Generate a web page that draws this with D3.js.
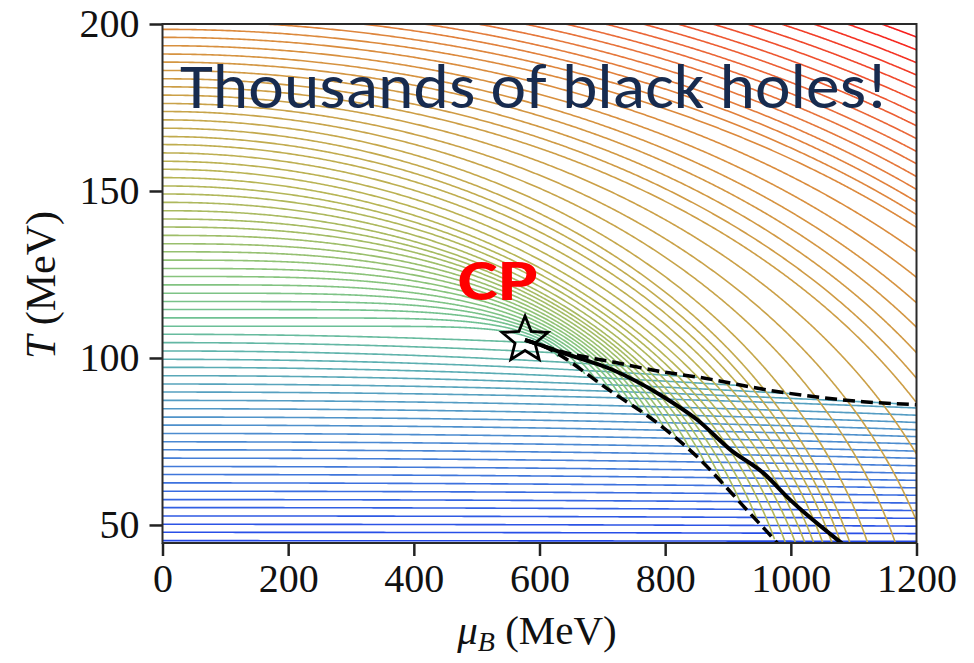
<!DOCTYPE html>
<html>
<head>
<meta charset="utf-8">
<script src="https://cdn.jsdelivr.net/npm/d3@7"></script>
<style>
body{margin:0;background:#fff}
</style>
</head>
<body>
<div id="viz"></div>
<script>
//Layout
let width = 974
let height = 663
let plotLeft = 162.5, plotRight = 916.5, plotTop = 24, plotBottom = 543

//Axes
let xDomain = [0, 1200]
let yDomain = [44.6, 200]
let xTicks = [0, 200, 400, 600, 800, 1000, 1200]
let yTicks = [50, 100, 150, 200]

//Temperature of every black hole curve at muB = 0 (MeV)
let coldT0 = [45.3, 47.8, 50.2, 52.7, 55.2, 57.6, 60.1, 62.6, 65.1, 67.5, 70.0, 72.5, 74.9,
              77.4, 79.9, 82.3, 84.8, 87.3, 89.8, 92.2, 94.7, 97.2, 99.6, 102.1, 104.6, 107.1]
let hotT0 = [109.5, 112.0, 114.5, 116.9, 119.4, 121.9, 124.4, 126.8, 129.3, 131.8, 134.2, 136.7,
             139.2, 141.6, 144.1, 146.6, 149.1, 151.5, 154.0, 156.5, 158.9, 161.4, 163.9, 166.3,
             168.8, 171.3, 173.8, 176.2, 178.7, 181.2, 183.6, 186.1, 188.6, 191.0, 193.5, 196.0,
             198.4, 200.9, 203.4, 205.8, 208.3, 210.8, 213.2, 215.7, 218.2, 220.6, 223.1, 225.6,
             228.1, 230.5, 233.0, 235.5]

//Cold branch: drop in T at muB = 600 MeV
let coldDropT0 = [45, 60, 75, 90, 97, 102, 107.1]
let coldDrop   = [0.05, 0.3, 0.7, 1.2, 2.3, 3.0, 2.6]

//Hot branch guide points: T where a curve passes the critical muB, and where it leaves the plot
let hotGuideT0 = [109.5, 120, 132, 145, 155, 170, 181, 198.4, 235.5]
let hotCpT     = [106.6, 110.5, 116, 122.5, 130, 146.7, 164, 186.4, 227]
let hotEndMu   = [630, 720, 800, 930, 1013, 1100, 1200, 1200, 1200]
let hotEndT    = [100.3, 89.2, 78.9, 54.5, 45, 45.2, 86, 139.1, 196.1]

//Critical point and phase lines (muB, T)
let criticalPoint = [577, 105.4]
let upperMu = [577, 601, 637, 717, 797, 851, 983, 1115, 1201]
let upperT  = [105.4, 103.9, 101.8, 98.8, 95.8, 94.3, 89.8, 86.9, 86.0]
let lowerMu = [577, 601, 717, 787, 851, 930, 978, 990]
let lowerT  = [105.4, 103.9, 89.6, 80.6, 70.4, 54.5, 44.7, 42.2]
let transMu = [577, 601, 637, 717, 797, 851, 904, 956, 999, 1078, 1090]
let transT  = [105.4, 103.9, 101.5, 96.4, 88.4, 81.5, 72.5, 65.6, 57.5, 45.0, 43.2]

//Colour of a curve by its starting temperature
let colorT0 = [45, 60, 75, 90, 100, 110, 125, 140, 155, 170, 185, 198, 212, 225, 236]
let colorHex = ["#2448e8", "#3a6ce0", "#4a88d2", "#56a0c0", "#5cb0b0", "#6cc096", "#88c47c", "#a4bc64",
                "#b8b454", "#c4a84c", "#d09a44", "#dc8a3c", "#e8703a", "#f04a2c", "#f81c1c"]

let x = d3.scaleLinear().domain(xDomain).range([plotLeft, plotRight])
let y = d3.scaleLinear().domain(yDomain).range([plotBottom, plotTop])
let color = d3.scaleLinear().domain(colorT0).range(colorHex).interpolate(d3.interpolateRgb).clamp(true)

let coldDropScale = d3.scaleLinear().domain(coldDropT0).range(coldDrop).clamp(true)
let hotCpScale = d3.scaleLinear().domain(hotGuideT0).range(hotCpT)
let hotEndMuScale = d3.scaleLinear().domain(hotGuideT0).range(hotEndMu)
let hotEndTScale = d3.scaleLinear().domain(hotGuideT0).range(hotEndT)
let upperLine = d3.scaleLinear().domain(upperMu).range(upperT)
let lowerLine = d3.scaleLinear().domain(lowerMu).range(lowerT)

function coldCurve(T0){
    let pts = []
    let c = coldDropScale(T0)
    for(let mu = 0; mu <= 1210; mu += 4){
        let T = T0 - c*(mu/600)*(mu/600)
        if(mu > criticalPoint[0] && T > upperLine(Math.min(mu, 1201))){ break }
        pts.push([mu, T])
    }
    return pts
}

//Superellipse (T/T0)^n + (mu/M)^n = 1 through the two guide points
function hotShape(T0){
    let muC = criticalPoint[0], Tc = hotCpScale(T0)
    let muE = hotEndMuScale(T0), Te = hotEndTScale(T0)
    let f = n => Math.pow(muC/muE, n) - (1 - Math.pow(Tc/T0, n)) / (1 - Math.pow(Te/T0, n))
    let lo = 1.2, hi = 30
    for(let k = 0; k < 60; k++){
        let mid = (lo + hi)/2
        if(f(mid) > 0){ lo = mid } else { hi = mid }
    }
    let n = (lo + hi)/2
    let M = muC / Math.pow(1 - Math.pow(Tc/T0, n), 1/n)
    return [n, M]
}

function hotCurve(T0){
    let pts = []
    let [n, M] = hotShape(T0)
    let muEnd = Math.min(M, 1215)
    for(let i = 0; i <= 600; i++){
        let mu = muEnd * (1 - Math.pow(1 - i/600, 2))
        let T = T0 * Math.pow(Math.max(0, 1 - Math.pow(mu/M, n)), 1/n)
        if(mu > criticalPoint[0] && mu < lowerMu[lowerMu.length-1] && T < lowerLine(mu)){ break }
        pts.push([mu, T])
        if(T < 40) break
    }
    return pts
}

let svg = d3.select('#viz').append('svg').attr("width", width).attr("height", height)

svg.append("clipPath").attr("id", "plotClip").append("rect")
    .attr("x", plotLeft).attr("y", plotTop).attr("width", plotRight-plotLeft).attr("height", plotBottom-plotTop)

let line = d3.line().x(d => x(d[0])).y(d => y(d[1]))
let smooth = d3.line().x(d => x(d[0])).y(d => y(d[1])).curve(d3.curveMonotoneX)
let plot = svg.append("g").attr("clip-path", "url(#plotClip)")

//All curves, drawn in order of starting temperature
let curves = coldT0.map(t => ({T0: t, pts: coldCurve(t)}))
    .concat(hotT0.map(t => ({T0: t, pts: hotCurve(t)})))

plot.selectAll("path.bh").data(curves).enter().append("path").attr("class", "bh")
    .attr("d", d => line(d.pts)).attr("fill", "none")
    .attr("stroke", d => color(d.T0)).attr("stroke-width", 1.6)

//Spinodals and transition line
plot.append("path").attr("d", smooth(d3.zip(upperMu, upperT))).attr("fill", "none")
    .attr("stroke", "black").attr("stroke-width", 3.5).attr("stroke-dasharray", "12,6")
plot.append("path").attr("d", smooth(d3.zip(lowerMu, lowerT))).attr("fill", "none")
    .attr("stroke", "black").attr("stroke-width", 3.5).attr("stroke-dasharray", "12,6")
plot.append("path").attr("d", smooth(d3.zip(transMu, transT))).attr("fill", "none")
    .attr("stroke", "black").attr("stroke-width", 4)

//Critical point star
let starPts = []
for(let i = 0; i < 10; i++){
    let r = i % 2 == 0 ? 24 : 10.5
    let a = -Math.PI/2 + i*Math.PI/5
    starPts.push([r*Math.cos(a), r*Math.sin(a)])
}
svg.append("path").attr("d", "M" + starPts.join("L") + "Z")
    .attr("transform", `translate(${x(criticalPoint[0])},${y(criticalPoint[1])})`)
    .attr("fill", "none").attr("stroke", "black").attr("stroke-width", 2.8).attr("stroke-linejoin", "miter")

//Axes
let xAxis = svg.append("g").attr("transform", `translate(0,${plotBottom})`)
    .call(d3.axisBottom(x).tickValues(xTicks).tickSize(13).tickPadding(8).tickFormat(d3.format("d")))
let yAxis = svg.append("g").attr("transform", `translate(${plotLeft},0)`)
    .call(d3.axisLeft(y).tickValues(yTicks).tickSize(13).tickPadding(10).tickFormat(d3.format("d")))
for(let ax of [xAxis, yAxis]){
    ax.select(".domain").remove()
    ax.selectAll(".tick line").attr("stroke", "#222").attr("stroke-width", 2.5)
    ax.selectAll(".tick text").attr("font-family", "Liberation Serif, serif").attr("font-size", 40).attr("fill", "#111")
}
svg.append("rect").attr("x", plotLeft).attr("y", plotTop).attr("width", plotRight-plotLeft).attr("height", plotBottom-plotTop)
    .attr("fill", "none").attr("stroke", "#2a2a2a").attr("stroke-width", 2)

//Axis titles
let xTitle = svg.append("text").attr("x", 537).attr("y", 644).attr("text-anchor", "middle")
    .attr("font-family", "Liberation Serif, serif").attr("font-size", 41).attr("fill", "#111")
xTitle.append("tspan").text("μ").attr("font-style", "italic")
xTitle.append("tspan").text("B").attr("font-style", "italic").attr("font-size", 28).attr("dy", 7)
xTitle.append("tspan").text(" (MeV)").attr("dy", -7)

let yTitle = svg.append("text").attr("transform", "translate(55,285) rotate(-90)").attr("text-anchor", "middle")
    .attr("font-family", "Liberation Serif, serif").attr("font-size", 42).attr("fill", "#111")
yTitle.append("tspan").text("T").attr("font-style", "italic")
yTitle.append("tspan").text(" (MeV)")

//Annotations
svg.append("text").text("Thousands of black holes!").attr("x", 180).attr("y", 108)
    .attr("font-family", "Carlito, Open Sans, sans-serif").attr("font-size", 64).attr("fill", "#172b4f")
    .attr("textLength", 708).attr("lengthAdjust", "spacingAndGlyphs")
svg.append("text").text("CP").attr("x", 458).attr("y", 300)
    .attr("font-family", "Carlito, Open Sans, sans-serif").attr("font-weight", "bold").attr("font-size", 58).attr("fill", "#ff0000")
    .attr("textLength", 80).attr("lengthAdjust", "spacingAndGlyphs")
</script>
</body>
</html>
